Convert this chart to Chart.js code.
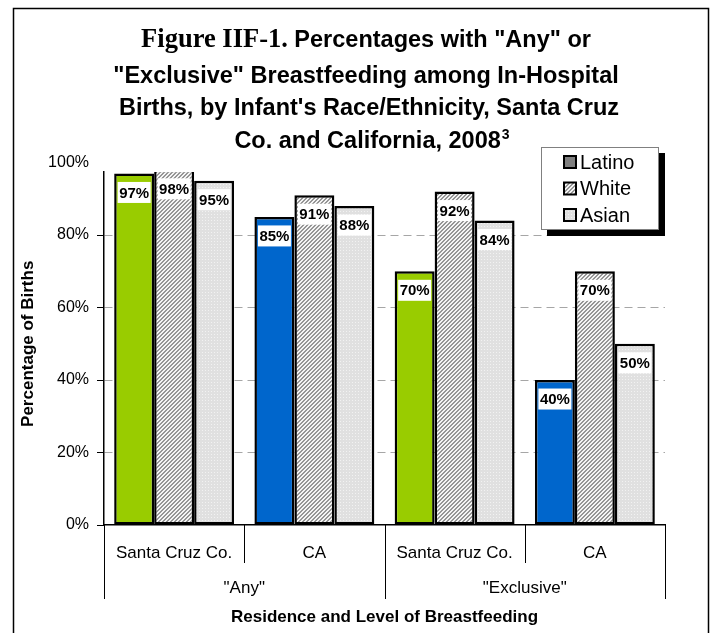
<!DOCTYPE html>
<html>
<head>
<meta charset="utf-8">
<script src="https://cdn.jsdelivr.net/npm/chart.js@4.4.1/dist/chart.umd.min.js"></script>
<style>
  html, body { margin: 0; padding: 0; background: #fff; }
  #wrap { width: 714px; height: 633px; }
</style>
</head>
<body>
<div id="wrap"><canvas id="chart" width="714" height="633"></canvas></div>
<script>
// ---- chart data ----
const categories = ["Santa Cruz Co.", "CA", "Santa Cruz Co.", "CA"];
const groups = ['"Any"', '"Exclusive"'];
const seriesNames = ["Latino", "White", "Asian"];
const latino = [97, 85, 70, 40];
const white = [98, 91, 92, 70];
const asian = [95, 88, 84, 50];
const yTicks = [0, 20, 40, 60, 80, 100];

// ---- text ----
const titleLead = "Figure IIF-1.";
const titleLines = [
  ' Percentages with "Any" or',
  '"Exclusive" Breastfeeding among In-Hospital',
  "Births, by Infant's Race/Ethnicity, Santa Cruz",
  "Co. and California, 2008"
];
const titleNote = "3";
const yTitle = "Percentage of Births";
const xTitle = "Residence and Level of Breastfeeding";

const SANS = '"Liberation Sans", Arial, sans-serif';
const SERIF = '"Liberation Serif", "Times New Roman", serif';
Chart.defaults.font.family = SANS;
Chart.defaults.color = "#000";

const canvas = document.getElementById("chart");
const ctx = canvas.getContext("2d");

// fill patterns for the White / Asian series
function makeHatch() {
  const c = document.createElement("canvas");
  c.width = 4; c.height = 4;
  const g = c.getContext("2d");
  g.fillStyle = "#f4f4f4";
  g.fillRect(0, 0, 4, 4);
  g.fillStyle = "#959595";
  for (let i = 0; i < 4; i++) {
    g.fillRect(i, (3 - i + 4) % 4, 1, 1);
    g.fillRect(i, (4 - i) % 4, 1, 1);
  }
  return ctx.createPattern(c, "repeat");
}

function makeDots() {
  const c = document.createElement("canvas");
  c.width = 3; c.height = 3;
  const g = c.getContext("2d");
  g.fillStyle = "#e0e0e0";
  g.fillRect(0, 0, 3, 3);
  g.fillStyle = "#f2f2f2";
  g.fillRect(1, 1, 1, 1);
  return ctx.createPattern(c, "repeat");
}

const hatch = makeHatch();
const dots = makeDots();
const latinoColors = ["#99cc00", "#0066cc", "#99cc00", "#0066cc"];
const legendFills = ["#808080", hatch, dots];

// white background + outer frame
const framePlugin = {
  id: "frame",
  beforeDraw(chart) {
    const c = chart.ctx;
    c.save();
    c.fillStyle = "#fff";
    c.fillRect(0, 0, chart.width, chart.height);
    c.strokeStyle = "#000";
    c.lineWidth = 1.5;
    c.beginPath();
    c.moveTo(13.5, chart.height);
    c.lineTo(13.5, 8.5);
    c.lineTo(708.5, 8.5);
    c.lineTo(708.5, chart.height);
    c.stroke();
    c.restore();
  }
};

// title with the serif "Figure" lead and superscript note
const titlePlugin = {
  id: "mixedTitle",
  afterDraw(chart) {
    const c = chart.ctx;
    const serifFont = "bold 26.5px " + SERIF;
    const sansFont = "bold 23.5px " + SANS;
    const baselines = [47, 83, 115, 148];
    c.save();
    c.fillStyle = "#000";
    c.textBaseline = "alphabetic";
    c.textAlign = "left";

    // line 1
    c.font = serifFont;
    const leadW = c.measureText(titleLead).width;
    c.font = sansFont;
    const restW = c.measureText(titleLines[0]).width;
    let x = 366 - (leadW + restW) / 2;
    c.font = serifFont;
    c.fillText(titleLead, x, baselines[0]);
    c.font = sansFont;
    c.fillText(titleLines[0], x + leadW, baselines[0]);

    // lines 2, 3
    c.textAlign = "center";
    c.fillText(titleLines[1], 366, baselines[1]);
    c.fillText(titleLines[2], 369, baselines[2]);

    // line 4 + superscript
    c.textAlign = "left";
    const w4 = c.measureText(titleLines[3]).width;
    c.font = "bold 14px " + SANS;
    const wn = c.measureText(titleNote).width;
    x = 372 - (w4 + wn + 1) / 2;
    c.font = sansFont;
    c.fillText(titleLines[3], x, baselines[3]);
    c.font = "bold 14px " + SANS;
    c.fillText(titleNote, x + w4 + 1, baselines[3] - 9);
    c.restore();
  }
};

// value boxes inside the bar tops
const valueLabels = {
  id: "valueLabels",
  afterDatasetsDraw(chart) {
    const c = chart.ctx;
    c.save();
    c.font = "bold 15px " + SANS;
    c.textAlign = "center";
    c.textBaseline = "middle";
    chart.data.datasets.forEach((ds, di) => {
      chart.getDatasetMeta(di).data.forEach((bar, i) => {
        const txt = ds.data[i] + "%";
        const w = c.measureText(txt).width + 3;
        const cy = bar.y + 19;
        c.fillStyle = "#fff";
        c.fillRect(bar.x - w / 2, cy - 10.5, w, 21);
        c.fillStyle = "#000";
        c.fillText(txt, bar.x, cy + 1);
      });
    });
    c.restore();
  }
};

// two-level category axis, axis titles
const axisText = {
  id: "axisText",
  afterDraw(chart) {
    const c = chart.ctx;
    const xs = chart.scales.x;
    const ys = chart.scales.y;
    const area = chart.chartArea;
    const step = (xs.right - xs.left) / categories.length;
    c.save();
    c.strokeStyle = "#000";
    c.lineWidth = 1;
    for (let i = 0; i <= categories.length; i++) {
      const bx = Math.round(xs.left + i * step) + 0.5;
      c.beginPath();
      c.moveTo(bx, area.bottom);
      c.lineTo(bx, i % 2 === 0 ? 599 : 563);
      c.stroke();
    }
    c.fillStyle = "#000";
    c.textAlign = "center";
    c.textBaseline = "middle";
    c.font = "17px " + SANS;
    categories.forEach((lab, i) => {
      c.fillText(lab, xs.getPixelForValue(i), 553);
    });
    groups.forEach((lab, g) => {
      c.fillText(lab, xs.left + step * (2 * g + 1), 588);
    });
    c.font = "bold 17px " + SANS;
    c.fillText(xTitle, (area.left + area.right) / 2, 617);
    const top = ys.getPixelForValue(yTicks[yTicks.length - 1]);
    c.translate(28, (top + area.bottom) / 2);
    c.rotate(-Math.PI / 2);
    c.fillText(yTitle, 0, 0);
    c.restore();
  }
};

// boxed legend with drop shadow
const boxLegend = {
  id: "boxLegend",
  afterDraw(chart) {
    const c = chart.ctx;
    const bx = 541, by = 147, bw = 118, bh = 83;
    c.save();
    c.fillStyle = "#000";
    c.fillRect(bx + 6, by + 6, bw, bh);
    c.fillStyle = "#fff";
    c.fillRect(bx, by, bw, bh);
    c.strokeStyle = "#808080";
    c.lineWidth = 1;
    c.strokeRect(bx + 0.5, by + 0.5, bw - 1, bh - 1);
    c.font = "20px " + SANS;
    c.textAlign = "left";
    c.textBaseline = "middle";
    seriesNames.forEach((name, i) => {
      const cy = 162 + i * 26.5;
      c.fillStyle = legendFills[i];
      c.fillRect(564, cy - 6, 12, 12);
      c.strokeStyle = "#000";
      c.lineWidth = 2;
      c.strokeRect(564, cy - 6, 12, 12);
      c.fillStyle = "#000";
      c.fillText(name, 580, cy + 1);
    });
    c.restore();
  }
};

new Chart(ctx, {
  type: "bar",
  data: {
    labels: categories,
    datasets: [
      { label: seriesNames[0], data: latino, backgroundColor: latinoColors },
      { label: seriesNames[1], data: white, backgroundColor: hatch },
      { label: seriesNames[2], data: asian, backgroundColor: dots }
    ]
  },
  options: {
    responsive: false,
    animation: false,
    devicePixelRatio: 1,
    layout: { padding: { top: 172, right: 49, left: 0, bottom: 0 } },
    datasets: {
      bar: {
        borderColor: "#000",
        borderWidth: 2.5,
        borderSkipped: false,
        categoryPercentage: 0.855,
        barPercentage: 1.0,
        clip: 0
      }
    },
    plugins: {
      legend: { display: false },
      title: { display: false },
      tooltip: { enabled: false }
    },
    scales: {
      x: {
        ticks: { display: false },
        grid: { display: false },
        border: { color: "#000", width: 1.5 },
        afterFit: s => { s.height = 108; }
      },
      y: {
        // plot area is cut just above the tallest Latino bar, as in the original
        min: 0,
        max: 97.4,
        afterBuildTicks: s => { s.ticks = yTicks.map(v => ({ value: v })); },
        ticks: {
          callback: v => v + "%",
          font: { size: 16 },
          color: "#000",
          padding: 8
        },
        grid: {
          color: c => (c.tick && (c.tick.value === 0 || c.tick.value === 100)) ? "rgba(0,0,0,0)" : "#a6a6a6",
          tickColor: c => (c.tick && c.tick.value === 100) ? "rgba(0,0,0,0)" : "#000",
          tickLength: 7,
          tickBorderDash: [],
          lineWidth: 1
        },
        border: { color: "#000", width: 1.5, dash: [8, 5] },
        afterFit: s => { s.width = 104; }
      }
    }
  },
  plugins: [framePlugin, titlePlugin, valueLabels, axisText, boxLegend]
});
</script>
</body>
</html>
